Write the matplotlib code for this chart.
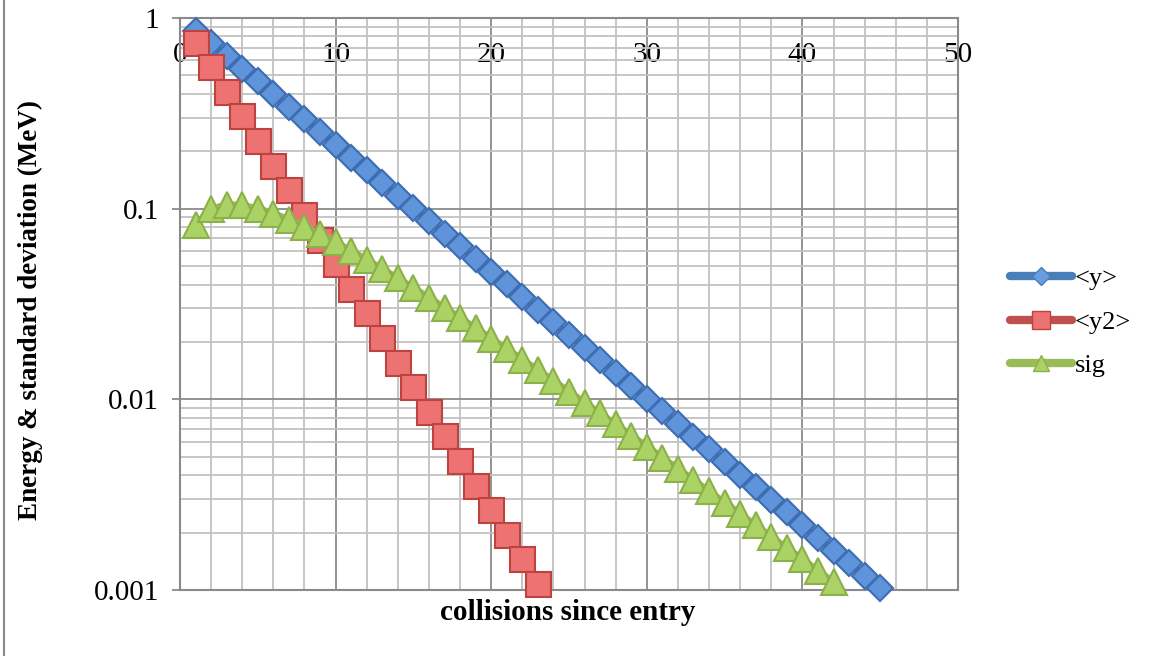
import matplotlib
matplotlib.use("Agg")
import matplotlib.pyplot as plt
from matplotlib.lines import Line2D
from matplotlib.ticker import FixedLocator, NullFormatter

# collisions since entry
n_y = list(range(1, 46))
n_y2 = list(range(1, 24))
n_sig = list(range(1, 43))

# mean energy <y> (MeV)
y_mean = [0.8580, 0.7361, 0.6316, 0.5419, 0.4650, 0.3989, 0.3423, 0.2937, 0.2520, 0.2162,
          0.1855, 0.1592, 0.1366, 0.1172, 0.1005, 0.08625, 0.07400, 0.06349, 0.05447, 0.04674,
          0.04010, 0.03441, 0.02952, 0.02533, 0.02173, 0.01865, 0.01600, 0.01373, 0.01178, 0.01010,
          0.00867, 0.00744, 0.00638, 0.00548, 0.00470, 0.00403, 0.00346, 0.00297, 0.00255, 0.00218,
          0.00187, 0.00161, 0.00138, 0.00118, 0.00102]

# mean square <y2>
y2_mean = [0.7429, 0.5519, 0.4100, 0.3045, 0.2262, 0.1681, 0.1248, 0.09275, 0.06890, 0.05118,
           0.03802, 0.02825, 0.02098, 0.01559, 0.01158, 0.00860, 0.00639, 0.00475, 0.00353, 0.00262,
           0.00195, 0.00145, 0.00107]

# standard deviation sig
sig = [0.08187, 0.09957, 0.10487, 0.10413, 0.10012, 0.09432, 0.08761, 0.08054, 0.07347, 0.06660,
       0.06006, 0.05395, 0.04830, 0.04310, 0.03837, 0.03408, 0.03021, 0.02674, 0.02362, 0.02084,
       0.01837, 0.01617, 0.01422, 0.01249, 0.01097, 0.00962, 0.00843, 0.00738, 0.00646, 0.00565,
       0.00494, 0.00432, 0.00377, 0.00329, 0.00287, 0.00251, 0.00218, 0.00190, 0.00166, 0.00145,
       0.00126, 0.00110]

y_ticks = [1, 0.1, 0.01, 0.001]
y_tick_labels = ["1", "0.1", "0.01", "0.001"]
x_ticks = [0, 10, 20, 30, 40, 50]

plt.rcParams['font.family'] = ['Liberation Serif', 'DejaVu Serif']

W, H = 1151, 656
fig = plt.figure(figsize=(W / 100, H / 100), dpi=100)
ax = fig.add_axes([180 / W, (H - 590) / H, 778 / W, 572 / H])

major_c = '#8a8a8a'
minor_c = '#c2c2c2'

ax.set_yscale('log')
ax.set_xlim(0, 50)
ax.set_ylim(0.001, 1)

ax.set_xticks(x_ticks)
ax.xaxis.set_minor_locator(FixedLocator(range(0, 51, 2)))
ax.set_yticks(y_ticks)
ax.set_yticklabels(y_tick_labels)
ax.yaxis.set_minor_locator(FixedLocator([m * 10.0 ** e for e in (-3, -2, -1) for m in range(2, 10)]))
ax.yaxis.set_minor_formatter(NullFormatter())

ax.grid(True, which='minor', color=minor_c, lw=1.3, zorder=0)
ax.grid(True, which='major', color=major_c, lw=1.3, zorder=0)
ax.set_axisbelow(True)

for s in ax.spines.values():
    s.set_color(major_c)
    s.set_linewidth(1.5)

ax.tick_params(axis='y', which='major', length=6, width=1.3, color=major_c,
               labelsize=21, pad=9)
ax.tick_params(axis='y', which='minor', length=0)
ax.tick_params(axis='x', which='both', length=0, bottom=False, labelbottom=False,
               top=True, labeltop=True, labelsize=21, pad=-36)

# series
ax.plot(n_y, y_mean, color='#4a7ebb', lw=5, marker='D', ms=13.5,
        mfc='#5f93da', mec='#3c6db0', mew=1.5, label='<y>', zorder=3, clip_on=False)
ax.plot(n_y2, y2_mean, color='#c0504d', lw=5, marker='s', ms=18,
        mfc='#ec7372', mec='#bd4340', mew=1.5, label='<y2>', zorder=4, clip_on=False)
ax.plot(n_sig, sig, color='#9bbb59', lw=5, marker='^', ms=18.5,
        mfc='#aad264', mec='#8cb04a', mew=1.5, label='sig', zorder=5, clip_on=False)

handles = [
    Line2D([], [], color='#4a7ebb', lw=6, solid_capstyle='round', marker='D', ms=9,
           mfc='#6a9de0', mec='#4a7ebb'),
    Line2D([], [], color='#c0504d', lw=6, solid_capstyle='round', marker='s', ms=13,
           mfc='#ec7372', mec='#bd4340'),
    Line2D([], [], color='#9bbb59', lw=6, solid_capstyle='round', marker='^', ms=12,
           mfc='#aad264', mec='#8cb04a'),
]
fig.legend(handles, ['<y>', '<y2>', 'sig'], loc='center left',
           bbox_to_anchor=(1010 / W, (H - 322) / H), frameon=False, fontsize=19,
           handlelength=2.35, handletextpad=0.1, labelspacing=0.75,
           borderpad=0, borderaxespad=0)

fig.text(30 / W, (H - 310) / H, 'Energy & standard deviation (MeV)', rotation=90,
         ha='center', va='center', fontsize=19.5, fontweight='bold')
fig.text(568 / W, (H - 612) / H, 'collisions since entry', ha='center', va='center',
         fontsize=21, fontweight='bold')

fig.add_artist(Line2D([4 / W, 4 / W], [0, 1], transform=fig.transFigure,
                      color='#8a8a8a', lw=1.5))

fig.savefig('out.png', dpi=100)
